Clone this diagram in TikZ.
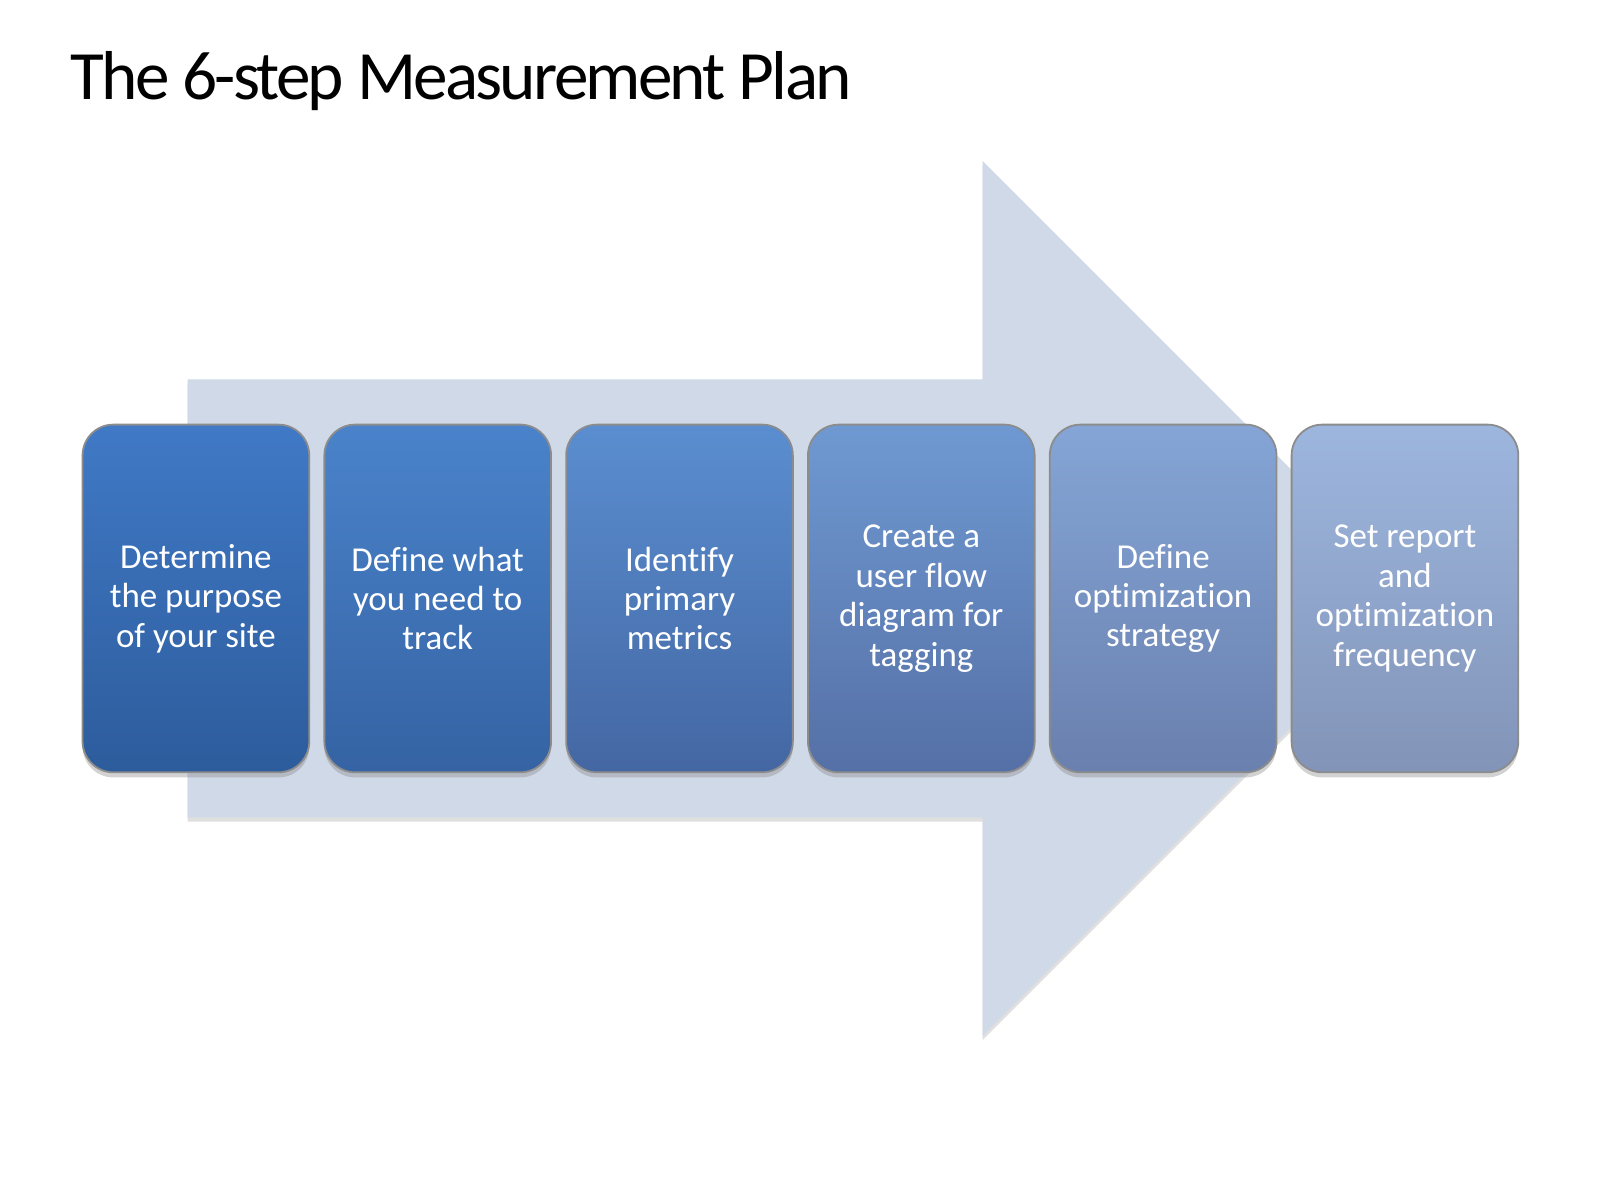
\documentclass[tikz,border=0pt]{standalone}
\usepackage{fontspec}
\setmainfont{Carlito}[Ligatures=NoCommon]
\newfontfamily\titlefont{Carlito}[LetterSpace=-4,Ligatures=NoCommon]
\usepackage{tikz}
\usetikzlibrary{positioning,shadows}
\definecolor{arrowfill}{HTML}{D0D9E7}
\definecolor{topA}{HTML}{4079C6}\definecolor{botA}{HTML}{2D5C9C}
\definecolor{topB}{HTML}{4A83CB}\definecolor{botB}{HTML}{3563A3}
\definecolor{topC}{HTML}{5A8ED0}\definecolor{botC}{HTML}{4467A3}
\definecolor{topD}{HTML}{6F99D2}\definecolor{botD}{HTML}{5570A6}
\definecolor{topE}{HTML}{84A5D6}\definecolor{botE}{HTML}{6A80AE}
\definecolor{topF}{HTML}{9DB6DE}\definecolor{botF}{HTML}{8294B8}
\tikzset{stepbox/.style={rectangle,rounded corners=0.3cm,minimum width=2.21cm,minimum height=3.39cm,
    inner sep=0.05cm,align=center,text=white,font=\fontsize{9.7}{10.95}\selectfont,
    draw=black!45,line width=0.5pt,
    drop shadow={shadow xshift=0cm,shadow yshift=-0.05cm,opacity=0.35}},
  bigarrow/.style={fill=arrowfill,draw=none,
    drop shadow={shadow xshift=0cm,shadow yshift=-0.04cm,opacity=0.25}}}

\begin{document}
\begin{tikzpicture}
    \useasboundingbox[fill=white] (0,0) rectangle (15.6,-11.7);
    \def\h{5.835}
    % background arrow
    \path[bigarrow] (1.83,-3.70) -- (9.58,-3.70) -- (9.58,-1.57) -- (13.845,-\h)
        -- (9.58,-10.10) -- (9.58,-7.97) -- (1.83,-7.97) -- cycle;
    \node[anchor=base west,inner sep=0pt,font=\titlefont\fontsize{19.2}{23}\selectfont] (title) at (0.68,-0.97) {The 6-step Measurement Plan};
    % steps
    \node[stepbox,top color=topA,bottom color=botA] (purpose) at (1.91,-\h) {Determine\\the purpose\\of your site};
    \node[stepbox,top color=topB,bottom color=botB,right=0.13cm of purpose] (track) {Define what\\you need to\\track};
    \node[stepbox,top color=topC,bottom color=botC,right=0.13cm of track] (metrics) {Identify\\primary\\metrics};
    \node[stepbox,top color=topD,bottom color=botD,right=0.13cm of metrics] (flow) {Create a\\user flow\\diagram for\\tagging};
    \node[stepbox,top color=topE,bottom color=botE,right=0.13cm of flow] (strategy) {Define\\optimization\\strategy};
    \node[stepbox,top color=topF,bottom color=botF,right=0.13cm of strategy] (report) {Set report\\and\\optimization\\frequency};
\end{tikzpicture}
\end{document}
